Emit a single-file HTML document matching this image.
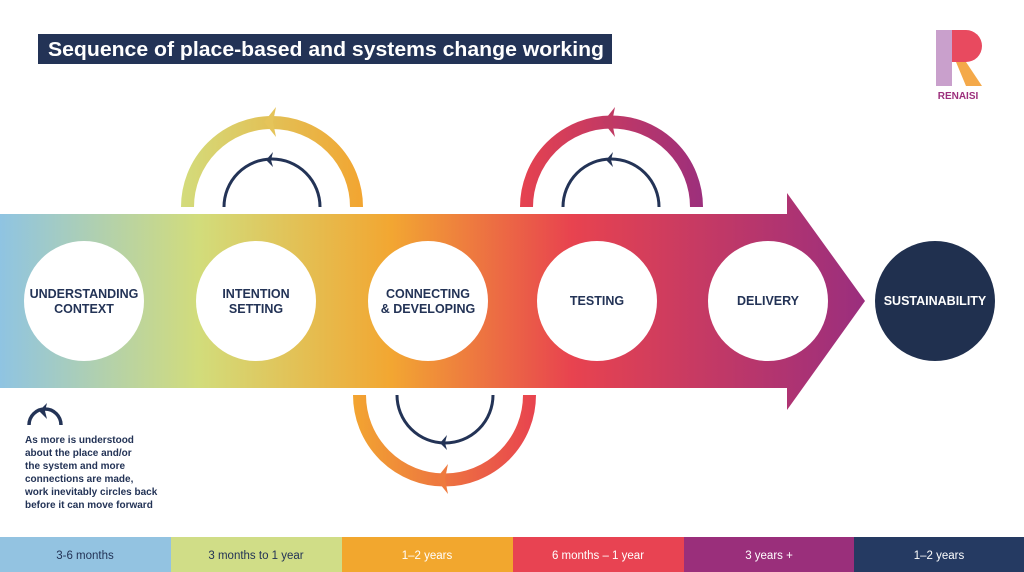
<!DOCTYPE html>
<html><head><meta charset="utf-8"><style>
html,body{margin:0;padding:0;background:#fff;}
body{width:1024px;height:572px;overflow:hidden;position:relative;font-family:"Liberation Sans",sans-serif;}
</style></head><body>
<svg width="1024" height="572" viewBox="0 0 1024 572" xmlns="http://www.w3.org/2000/svg" style="position:absolute;left:0;top:0">
<defs>
<linearGradient id="ag" x1="0" y1="0" x2="866" y2="0" gradientUnits="userSpaceOnUse">
<stop offset="0" stop-color="#8fc4e2"/>
<stop offset="0.23" stop-color="#d2dc7b"/>
<stop offset="0.45" stop-color="#f2a732"/>
<stop offset="0.66" stop-color="#e8434f"/>
<stop offset="1" stop-color="#9a2e7e"/>
</linearGradient>
<linearGradient id="g1" x1="181" y1="0" x2="362" y2="0" gradientUnits="userSpaceOnUse"><stop offset="0" stop-color="#d3dc7c"/><stop offset="1" stop-color="#f2a531"/></linearGradient>
<linearGradient id="g2" x1="520" y1="0" x2="703" y2="0" gradientUnits="userSpaceOnUse"><stop offset="0" stop-color="#e6424f"/><stop offset="1" stop-color="#9c2f7c"/></linearGradient>
<linearGradient id="g3" x1="353" y1="0" x2="536" y2="0" gradientUnits="userSpaceOnUse"><stop offset="0" stop-color="#f2a531"/><stop offset="1" stop-color="#e8434f"/></linearGradient>
</defs>
<!-- title -->
<rect x="38" y="34" width="574" height="30" fill="#233356"/>
<text x="48" y="56" font-size="20" font-weight="bold" fill="#fff" textLength="556" lengthAdjust="spacingAndGlyphs">Sequence of place-based and systems change working</text>
<!-- logo -->
<rect x="936" y="30" width="16" height="56" fill="#c9a0cc"/>
<path d="M952 30 H966 A16 16 0 0 1 966 62 H952 Z" fill="#e84a5f"/>
<path d="M956 62 L966 62 L982 86 L966 86 Z" fill="#f4a94a"/>
<text x="958" y="99" font-size="10" font-weight="bold" fill="#9c2f7c" text-anchor="middle">RENAISI</text>
<!-- main arrow -->
<path d="M0 214 H787 V193 L865 301 L787 410 V388 H0 Z" fill="url(#ag)"/>
<!-- arcs -->
<path d="M187.5 207 A84.5 84.5 0 0 1 356.5 207" fill="none" stroke="url(#g1)" stroke-width="13"/>
<polygon points="276,107 264,122 276,137 273,122" fill="#e5c45a"/>
<path d="M224 207 A48 48 0 0 1 320 207" fill="none" stroke="#233356" stroke-width="3"/>
<polygon points="273,152 266,160 273,167 271,160" fill="#233356"/>

<path d="M526.5 207 A85 85 0 0 1 696.5 207" fill="none" stroke="url(#g2)" stroke-width="13"/>
<polygon points="615,107 603,122 615,137 612,122" fill="#c03a63"/>
<path d="M563 207 A48 48 0 0 1 659 207" fill="none" stroke="#233356" stroke-width="3"/>
<polygon points="613,152 606,160 613,167 611,160" fill="#233356"/>

<path d="M359.5 395 A85 85 0 0 0 529.5 395" fill="none" stroke="url(#g3)" stroke-width="13"/>
<polygon points="448,464 436,479 448,494 445,479" fill="#ee7a3e"/>
<path d="M397 395 A48 48 0 0 0 493 395" fill="none" stroke="#233356" stroke-width="3"/>
<polygon points="447,435 440,443 447,450 445,443" fill="#233356"/>
<!-- circles -->
<g fill="#fff">
<circle cx="84" cy="301" r="60"/><circle cx="256" cy="301" r="60"/><circle cx="428" cy="301" r="60"/><circle cx="597" cy="301" r="60"/><circle cx="768" cy="301" r="60"/>
</g>
<circle cx="935" cy="301" r="60" fill="#20304f"/>
<g font-size="12.5" font-weight="bold" fill="#233356" text-anchor="middle">
<text x="84" y="298">UNDERSTANDING</text><text x="84" y="313">CONTEXT</text>
<text x="256" y="298">INTENTION</text><text x="256" y="313">SETTING</text>
<text x="428" y="298">CONNECTING</text><text x="428" y="313">&amp; DEVELOPING</text>
<text x="597" y="305">TESTING</text>
<text x="768" y="305">DELIVERY</text>
<text x="935" y="305" fill="#fff">SUSTAINABILITY</text>
</g>
<!-- legend -->
<path d="M29 425 A16 16 0 0 1 61 425" fill="none" stroke="#233356" stroke-width="3.5"/>
<polygon points="47,403 39,411 47,419 45,411" fill="#233356"/>
<g font-size="10" font-weight="bold" fill="#233356">
<text x="25" y="443">As more is understood</text>
<text x="25" y="456">about the place and/or</text>
<text x="25" y="469">the system and more</text>
<text x="25" y="482">connections are made,</text>
<text x="25" y="495">work inevitably circles back</text>
<text x="25" y="508">before it can move forward</text>
</g>
<!-- bottom bar -->
<rect x="0" y="537" width="171" height="35" fill="#93c3e1"/>
<rect x="171" y="537" width="171" height="35" fill="#d0dd87"/>
<rect x="342" y="537" width="171" height="35" fill="#f2a72e"/>
<rect x="513" y="537" width="171" height="35" fill="#e84352"/>
<rect x="684" y="537" width="170" height="35" fill="#9a2f7b"/>
<rect x="854" y="537" width="170" height="35" fill="#253a62"/>
<g font-size="11.5" text-anchor="middle">
<text x="85" y="559" fill="#233356">3-6 months</text>
<text x="256" y="559" fill="#233356">3 months to 1 year</text>
<text x="427" y="559" fill="#fff">1–2 years</text>
<text x="598" y="559" fill="#fff">6 months – 1 year</text>
<text x="769" y="559" fill="#fff">3 years +</text>
<text x="939" y="559" fill="#fff">1–2 years</text>
</g>
</svg>
</body></html>
